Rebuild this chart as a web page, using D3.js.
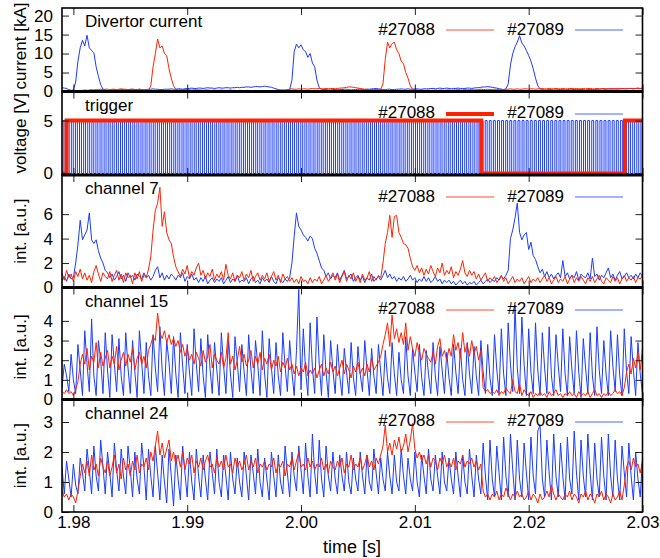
<!DOCTYPE html>
<html>
<head>
<meta charset="utf-8">
<script src="https://cdn.jsdelivr.net/npm/d3@7"></script>
<style>
body { margin: 0; background: #fff; }
text { font-family: "Liberation Sans", Arial, Helvetica, sans-serif; fill: #000; }
</style>
</head>
<body>
<svg id="plot" width="660" height="558"></svg>
<script>
// traces on a 0.2 ms grid starting at t0
const t0 = 1.979;
const dt = 0.0002;

const shots = ["#27088", "#27089"];
const xTicks = [1.98, 1.99, 2.00, 2.01, 2.02, 2.03];
const currentTicks = [0, 5, 10, 15, 20];
const voltageTicks = [0, 5];
const ch7Ticks = [0, 2, 4, 6];
const ch15Ticks = [0, 1, 2, 3, 4];
const ch24Ticks = [0, 1, 2, 3];

// divertor current [kA]
const divCur88 = [
  0.2,0.2,0.3,0.2,0.2,0.3,0.3,0.2,0.3,0.3,
  0.4,0.3,0.4,0.5,0.4,0.5,0.5,0.6,0.5,0.6,
  0.6,0.5,0.6,0.6,0.5,0.6,0.7,0.6,0.6,0.5,
  0.6,0.6,0.5,0.5,0.6,0.5,0.4,0.4,0.3,1.5,
  6.5,10.0,13.8,11.5,12.0,10.0,9.5,6.0,3.5,1.5,
  0.6,0.4,0.5,0.5,0.6,0.5,0.5,0.4,0.4,0.5,
  0.4,0.4,0.3,0.4,0.4,0.3,0.3,0.4,0.3,0.3,
  0.4,0.3,0.3,0.3,0.4,0.3,0.3,0.2,0.3,0.3,
  0.2,0.3,0.3,0.2,0.2,0.3,0.2,0.2,0.3,0.2,
  0.2,0.3,0.2,0.2,0.3,0.2,0.3,0.3,0.4,0.5,
  0.6,0.7,0.6,0.6,0.7,0.6,0.7,0.7,0.6,0.7,
  0.8,0.7,0.7,0.8,0.7,0.7,0.8,0.7,0.8,0.8,
  0.7,0.8,0.9,0.9,1.0,1.1,1.2,1.2,1.1,1.0,
  0.9,0.8,0.7,0.6,0.6,0.5,0.5,0.6,0.5,0.5,
  0.6,2.0,8.5,13.0,11.5,12.6,13.0,11.0,10.0,8.0,
  7.3,5.0,3.5,1.5,0.6,0.4,0.4,0.3,0.4,0.3,
  0.3,0.4,0.3,0.3,0.4,0.3,0.4,0.4,0.3,0.4,
  0.4,0.3,0.4,0.4,0.5,0.4,0.4,0.5,0.4,0.5,
  0.5,0.4,0.5,0.5,0.6,0.5,0.5,0.6,0.5,0.5,
  0.6,0.5,0.6,0.6,0.5,0.6,0.6,0.7,0.6,0.6,
  0.7,0.6,0.6,0.7,0.7,0.6,0.7,0.7,0.6,0.7,
  0.7,0.8,0.7,0.7,0.8,0.7,0.7,0.8,0.7,0.7,
  0.8,0.7,0.7,0.8,0.8,0.7,0.8,0.7,0.7,0.8,
  0.7,0.8,0.8,0.7,0.7,0.8,0.7,0.7,0.8,0.7,
  0.7,0.8,0.7,0.7,0.8,0.8,0.7,0.8,0.7,0.8,
  0.8,0.7,0.8,0.8,0.7,0.8
];
const divCur89 = [
  1.0,0.9,0.8,0.5,0.3,0.4,2.5,8.0,11.5,13.5,
  12.0,14.8,11.5,10.8,10.2,6.5,4.0,1.8,0.6,0.4,
  0.3,0.3,0.4,0.5,0.4,0.4,0.5,0.5,0.4,0.4,
  0.5,0.6,0.5,0.5,0.6,0.5,0.4,0.5,0.6,0.6,
  0.7,0.6,0.6,0.5,0.5,0.6,0.6,0.6,0.7,0.6,
  0.6,0.7,0.7,0.6,0.7,0.8,0.8,0.9,0.8,0.8,
  0.9,0.9,0.8,0.9,1.0,0.9,0.9,0.8,0.9,1.0,
  0.9,0.9,1.0,1.0,0.9,1.0,1.0,1.1,1.0,1.1,
  1.1,1.2,1.2,1.1,1.2,1.3,1.3,1.2,1.3,1.4,
  1.3,1.2,1.1,0.9,0.7,0.5,0.4,0.4,0.3,0.4,
  0.5,3.0,10.5,12.5,11.5,12.3,11.0,10.5,9.0,10.0,
  7.5,6.5,3.0,1.0,0.6,0.5,0.5,0.4,0.4,0.5,
  0.5,0.6,0.5,0.5,0.6,0.6,0.5,0.4,0.5,0.5,
  0.6,0.6,0.5,0.5,0.6,0.6,0.7,0.7,0.8,0.7,
  0.6,0.5,0.5,0.6,0.6,0.5,0.5,0.6,0.6,0.7,
  0.6,0.6,0.7,0.6,0.6,0.7,0.7,0.6,0.6,0.7,
  0.7,0.7,0.8,0.8,0.7,0.8,0.9,0.8,0.8,0.9,
  0.8,0.7,0.8,0.8,0.9,0.8,0.8,0.8,0.9,0.9,
  0.8,0.9,1.0,1.0,1.1,1.2,1.2,1.3,1.2,1.1,
  1.0,0.9,0.7,0.6,0.5,0.7,2.0,7.0,10.0,11.8,
  13.0,14.7,12.8,12.0,10.8,9.5,8.0,6.0,3.5,1.5,
  0.7,0.5,0.4,0.4,0.5,0.5,0.4,0.4,0.5,0.5,
  0.5,0.4,0.5,0.6,0.6,0.5,0.5,0.6,0.5,0.5,
  0.4,0.5,0.6,0.5,0.5,0.6,0.6,0.7,0.6,0.6,
  0.7,0.6,0.7,0.7,0.6,0.7,0.8,0.7,0.7,0.8,
  0.8,0.7,0.8,0.9,0.8,0.9
];

// trigger [V]: #27088 level changes, #27089 pulse starts (ms after t0)
const trig88Times = [1.979, 1.9794, 2.01584, 2.02845, 2.030];
const trig88Levels = [0, 5, 0, 5, 5];
const trig89PulseMs = [
  0.10,0.46,0.82,1.18,1.54,1.90,2.26,2.62,2.98,3.34,
  3.70,4.06,4.42,4.78,5.14,5.50,5.86,6.22,6.58,6.94,
  7.30,7.66,8.02,8.38,8.74,9.10,9.46,9.82,10.18,10.54,
  10.90,11.26,11.62,11.98,12.34,12.70,13.06,13.42,13.78,14.14,
  14.50,14.86,15.22,15.58,15.94,16.30,16.66,17.02,17.38,17.74,
  18.10,18.46,18.82,19.18,19.54,19.90,20.26,20.62,20.98,21.34,
  21.70,22.06,22.42,22.78,23.14,23.50,23.86,24.22,24.58,24.94,
  25.30,25.66,26.02,26.38,26.74,27.10,27.46,27.82,28.18,28.54,
  28.90,29.26,29.62,29.98,30.34,30.70,31.06,31.42,31.78,32.14,
  32.50,32.86,33.22,33.58,33.94,34.30,34.66,35.02,35.38,35.74,
  36.10,36.46,36.82,37.18,37.54,37.90,38.26,38.62,38.98,39.34,
  39.70,40.06,40.42,40.78,41.14,41.50,41.86,42.22,42.58,42.94,
  43.30,43.66,44.02,44.38,44.74,45.10,45.46,45.82,46.18,46.54,
  46.90,47.26,47.62,47.98,48.34,48.70,49.06,49.42,49.78,50.14,
  50.50,50.86
];
const trig89WidthMs = 0.17;

// channel 7 [a.u.]
const ch7_88 = [
  1.2,0.6,1.4,0.8,1.1,0.5,1.3,0.9,1.5,0.7,
  1.2,0.6,1.0,0.4,1.3,1.8,1.1,0.5,1.2,0.9,
  0.7,1.3,0.5,1.0,1.4,0.6,1.1,0.4,1.2,0.8,
  1.0,0.3,1.2,0.7,1.3,0.5,1.0,0.8,1.5,2.5,
  4.7,6.3,6.9,8.2,5.0,6.2,4.5,3.9,3.6,2.5,
  1.7,1.3,0.9,1.5,1.1,1.8,0.8,1.3,1.0,1.6,
  2.0,1.0,1.4,0.7,1.2,0.9,1.5,0.6,1.1,0.8,
  1.3,0.6,1.9,1.0,0.7,1.2,0.5,1.0,0.8,1.3,
  0.6,1.1,0.8,1.4,0.5,0.9,1.2,0.6,1.0,0.7,
  1.2,0.5,0.9,1.3,0.6,1.0,0.4,1.1,0.7,0.9,
  0.5,0.8,0.4,0.7,0.3,0.9,0.5,0.6,0.3,0.8,
  0.4,0.7,0.5,0.9,0.3,0.6,1.0,0.5,0.8,1.2,
  0.6,1.1,0.4,0.9,1.3,0.5,1.0,0.7,1.2,0.5,
  0.9,0.4,1.1,0.6,0.8,1.3,0.5,0.9,0.6,1.0,
  0.8,2.0,3.6,4.5,5.9,4.1,5.8,5.9,4.5,4.1,
  3.6,3.5,3.2,2.4,1.7,1.4,1.8,1.2,1.6,1.0,
  1.5,1.1,1.8,1.3,0.9,1.6,1.2,2.0,1.0,1.4,
  1.1,1.7,0.8,1.3,1.0,1.5,2.2,1.2,0.9,1.4,
  1.0,1.3,0.7,1.1,0.6,0.9,1.2,0.5,0.8,0.6,
  0.9,0.4,0.7,1.0,0.5,0.8,0.3,0.6,0.9,0.4,
  0.7,0.5,0.8,0.3,0.6,0.9,0.4,0.7,0.5,0.8,
  0.4,0.7,1.0,0.5,0.8,0.3,0.6,0.9,0.4,0.7,
  0.5,0.9,0.3,0.7,1.0,0.4,0.8,0.5,0.9,0.6,
  0.3,0.8,0.5,0.9,0.4,0.7,1.0,0.5,0.3,0.8,
  0.6,0.4,0.9,0.5,0.8,0.3,0.7,1.0,0.5,0.8,
  0.6,0.9,0.4,0.8,0.7,1.0
];
const ch7_89 = [
  0.6,0.9,0.5,1.1,0.7,0.8,2.0,3.5,5.5,3.9,
  4.3,4.7,6.1,3.9,3.6,3.9,3.0,2.4,2.0,1.4,
  1.2,0.8,1.1,0.6,0.9,1.3,0.7,1.0,0.5,1.2,
  0.8,1.0,0.6,1.1,0.9,0.7,1.2,0.8,1.0,0.6,
  0.9,1.4,1.7,0.8,1.2,0.6,1.0,0.7,1.1,0.9,
  0.6,1.0,0.8,1.2,0.5,0.9,0.7,1.1,0.6,0.8,
  0.4,0.8,0.5,0.9,0.3,0.6,0.8,0.4,0.7,0.5,
  0.8,0.3,0.6,0.9,0.4,0.7,0.5,1.0,0.4,0.6,
  0.5,0.8,0.3,0.7,0.9,0.4,0.6,0.3,0.8,0.5,
  0.7,0.4,0.9,0.5,0.3,0.8,0.6,0.4,0.7,0.5,
  0.8,2.0,4.2,6.1,5.0,4.7,4.3,4.1,3.8,4.2,
  4.0,3.2,2.8,2.2,1.6,1.4,0.9,1.2,0.7,1.0,
  0.8,1.2,0.6,1.0,1.4,0.7,0.9,1.1,0.5,0.8,
  1.0,0.6,0.9,0.4,0.8,0.6,1.1,0.5,0.7,0.9,
  0.6,1.0,1.4,0.8,1.1,0.7,0.9,0.5,0.8,0.6,
  0.9,0.5,0.7,1.0,0.6,0.8,0.4,0.7,0.5,0.9,
  0.5,0.8,0.4,0.6,0.9,0.5,0.7,0.3,0.6,0.4,
  0.6,0.3,0.5,0.2,0.4,0.6,0.3,0.5,0.2,0.4,
  0.3,0.5,0.2,0.4,0.6,0.3,0.5,0.7,0.4,0.6,
  0.5,0.8,0.6,0.9,0.7,1.0,1.4,4.0,4.7,5.7,
  6.9,4.5,3.9,4.3,4.5,3.1,3.7,2.6,2.3,1.7,
  1.2,1.5,0.9,1.3,0.8,1.1,0.7,1.0,1.2,0.8,
  2.2,0.9,1.2,0.7,1.0,0.8,1.3,0.6,1.1,0.9,
  0.8,1.2,0.7,2.4,0.9,1.1,0.6,1.0,0.8,1.2,
  1.6,0.8,1.1,0.6,1.0,1.3,0.7,0.9,1.2,0.8,
  1.0,0.7,1.1,0.8,1.2,0.9
];

// channel 15 [a.u.]
const ch15_88 = [
  0.4,0.3,0.5,0.3,0.4,0.2,0.5,0.9,1.8,2.3,
  1.8,2.6,1.5,2.2,1.9,2.9,1.6,2.4,1.7,2.1,
  2.5,1.6,2.2,1.8,2.7,1.5,2.0,2.4,1.7,2.3,
  1.9,2.6,1.5,2.1,2.4,1.8,2.2,1.6,2.5,2.8,
  3.2,3.0,4.4,3.4,3.1,3.5,2.9,3.3,2.8,3.1,
  2.7,3.0,2.4,2.8,2.2,2.6,2.0,2.3,1.8,2.4,
  2.1,1.7,2.5,1.9,2.2,2.8,1.6,2.3,2.0,1.8,
  2.4,1.6,2.1,3.4,1.8,2.2,1.5,2.0,2.7,1.9,
  2.3,1.7,2.0,2.5,1.6,2.2,1.8,2.4,1.5,2.1,
  1.8,2.3,1.5,2.0,1.7,2.2,1.4,1.9,1.6,2.1,
  1.5,1.8,1.3,1.7,1.2,1.6,1.4,1.9,1.2,1.5,
  1.3,1.6,1.1,1.5,1.8,1.2,1.6,1.3,1.9,1.4,
  1.7,1.2,1.6,2.0,1.3,1.8,1.5,1.1,1.7,1.4,
  1.9,1.3,1.6,1.2,1.8,1.4,2.1,1.5,1.7,1.9,
  2.2,2.8,3.3,3.9,2.7,4.3,3.1,3.6,2.9,3.4,
  2.8,3.9,2.5,3.2,2.6,2.2,2.9,2.4,2.0,2.6,
  2.3,2.1,1.9,2.4,1.8,2.7,3.1,2.2,2.5,2.0,
  2.6,2.2,3.3,2.5,2.9,2.1,3.4,2.4,2.8,2.2,
  3.0,2.3,2.7,2.0,2.5,0.6,0.4,0.5,0.3,0.4,
  0.3,0.5,0.2,0.4,0.3,0.6,0.4,0.3,1.0,0.4,
  0.3,0.8,0.2,0.5,0.3,0.2,0.4,0.1,0.3,0.2,
  0.4,0.2,0.3,0.1,0.4,0.2,0.3,0.5,0.2,0.3,
  0.1,0.3,0.2,0.4,0.2,0.3,0.1,0.4,0.2,0.3,
  0.2,0.4,0.1,0.3,0.5,0.2,0.3,0.1,0.3,0.2,
  0.4,0.2,0.3,0.5,0.3,0.4,0.2,0.6,1.4,1.8,
  1.3,2.1,1.6,2.4,1.5,2.6
];
const ch15_89 = [
  0.6,1.8,1.2,0.4,2.3,1.0,0.3,2.8,1.5,0.2,
  3.5,1.8,0.4,4.1,1.2,0.2,3.0,2.0,0.3,3.4,
  1.5,0.1,3.3,1.8,0.4,3.1,1.2,0.2,3.4,1.6,
  0.3,3.0,1.4,0.1,3.5,1.9,0.3,2.9,1.2,0.2,
  3.3,1.6,0.4,3.7,1.5,0.2,3.0,1.9,0.3,3.2,
  1.3,0.1,3.4,1.7,0.3,2.8,1.4,0.2,3.6,1.8,
  0.4,3.1,1.2,0.1,3.3,1.6,0.3,2.9,1.5,0.2,
  3.4,1.7,0.3,3.0,1.3,0.1,3.2,1.9,0.4,2.8,
  1.4,0.2,3.3,1.5,0.3,3.0,1.8,0.2,3.5,1.3,
  0.1,3.1,1.6,0.3,2.9,1.2,0.2,3.4,1.7,0.4,
  3.0,1.4,0.2,2.5,5.6,0.5,3.6,1.5,0.2,3.9,
  1.6,0.3,4.2,1.8,0.2,3.3,1.4,0.1,3.0,1.5,
  0.3,2.8,1.2,0.2,2.6,1.4,0.3,2.9,1.1,0.2,
  2.7,1.3,0.4,3.0,1.5,0.2,2.6,1.2,0.3,2.8,
  1.4,0.2,2.5,1.1,0.3,2.9,1.3,0.2,2.4,1.0,
  0.3,3.2,1.2,0.2,2.6,1.4,0.4,2.8,1.1,0.2,
  2.5,1.3,0.3,2.9,1.2,0.2,2.7,1.5,0.3,2.4,
  1.1,0.2,2.8,1.4,0.3,2.6,1.0,0.2,2.9,1.3,
  0.3,2.7,1.2,0.2,3.0,1.4,0.3,2.8,1.1,0.2,
  3.3,1.5,0.3,3.6,1.3,0.2,3.9,1.8,0.4,4.8,
  1.6,0.3,4.2,1.8,0.2,3.6,1.4,0.3,3.9,1.5,
  0.2,3.4,1.6,0.3,3.7,1.2,0.2,3.3,1.7,0.4,
  3.6,1.3,0.2,3.2,1.5,0.3,3.5,1.4,0.1,3.1,
  1.6,0.3,3.4,1.2,0.2,3.7,1.5,0.3,3.0,1.3,
  0.2,3.5,1.7,0.4,3.3,1.2,0.2,3.6,1.4,0.3,
  3.2,1.5,0.2,2.9,1.3,0.3
];

// channel 24 [a.u.]
const ch24_88 = [
  0.7,0.5,0.6,0.4,0.6,0.5,0.3,0.7,1.2,1.6,
  1.3,1.7,1.2,1.9,1.4,1.6,1.2,1.8,1.5,1.3,
  1.7,1.2,1.5,1.9,1.3,1.6,1.1,1.8,1.4,1.6,
  1.2,1.7,1.4,1.9,1.3,1.6,1.5,1.8,1.4,2.0,
  1.7,2.2,2.7,1.9,2.3,1.8,2.1,2.4,1.7,2.0,
  1.6,1.9,1.5,2.0,1.4,1.8,1.6,1.9,1.3,1.7,
  1.5,1.8,1.4,1.7,1.9,1.5,1.6,1.3,1.8,1.5,
  1.7,1.4,1.9,1.5,1.6,1.3,1.8,1.5,1.7,1.4,
  1.6,1.9,1.4,1.7,1.5,1.8,1.3,1.6,1.5,1.7,
  1.4,1.6,1.5,1.8,1.3,1.6,1.5,1.7,1.2,1.6,
  1.5,1.8,1.4,1.7,2.0,1.5,1.6,1.4,1.8,1.5,
  1.7,1.4,1.6,1.5,1.8,1.4,1.6,1.3,1.7,1.5,
  1.4,1.7,1.5,1.8,1.3,1.6,1.5,1.9,1.4,1.6,
  1.5,1.8,1.4,1.6,1.9,1.5,1.7,1.4,1.8,1.6,
  1.9,2.2,2.9,2.0,2.3,1.9,2.4,2.1,2.5,2.0,
  2.2,2.6,2.0,2.4,2.95,2.1,1.8,2.0,1.7,1.9,
  1.6,1.9,1.5,1.8,1.7,1.4,1.8,1.6,1.9,1.5,
  1.7,1.5,1.8,1.4,1.7,1.6,1.9,1.5,1.7,1.6,
  1.8,1.5,1.7,1.4,1.6,0.7,0.5,0.6,0.4,0.6,
  0.5,0.7,0.4,0.6,0.5,0.8,0.6,0.4,0.6,0.5,
  0.7,0.5,0.6,0.4,0.5,0.7,0.4,0.6,0.5,0.3,
  0.6,0.4,0.5,0.7,0.5,0.9,0.6,0.4,0.6,0.5,
  0.4,0.6,0.5,0.7,0.4,0.6,0.5,0.3,0.6,0.5,
  0.7,0.4,0.6,0.5,0.3,0.6,0.5,0.7,0.4,0.6,
  0.5,0.3,0.6,0.4,0.5,0.7,0.4,0.9,1.5,1.7,
  1.4,1.8,1.5,1.6,1.3,1.7
];
const ch24_89 = [
  1.5,0.6,1.7,1.1,0.5,1.6,0.9,0.6,1.8,1.3,
  0.7,2.1,1.4,0.6,2.2,1.2,0.7,2.4,1.5,0.6,
  2.0,1.3,0.5,2.3,1.4,0.7,2.1,1.2,0.6,2.2,
  1.4,0.5,2.0,1.1,0.6,2.3,1.5,0.4,2.1,1.2,
  0.5,2.2,1.3,0.4,1.9,1.0,0.3,2.1,1.2,0.2,
  1.9,1.1,0.4,2.2,1.3,0.5,2.0,1.0,0.4,2.1,
  1.2,0.5,1.9,1.1,0.4,2.0,1.3,0.6,2.1,1.0,
  0.5,1.9,1.2,0.4,2.0,1.1,0.6,1.8,1.0,0.5,
  2.0,1.2,0.4,1.9,1.3,0.6,2.1,1.0,0.5,1.8,
  1.1,0.4,2.0,1.2,0.5,1.9,1.0,0.6,2.2,1.3,
  0.5,2.0,1.2,0.7,2.2,1.4,0.6,2.3,1.2,0.5,
  2.6,1.3,0.6,2.4,1.1,0.5,2.2,1.2,0.7,2.0,
  1.1,0.6,1.9,1.2,0.7,2.0,1.0,0.6,1.8,1.1,
  0.7,2.0,1.2,0.6,1.9,1.0,0.7,2.1,1.3,0.6,
  1.8,1.1,0.7,2.0,1.2,0.6,1.9,1.0,0.7,2.1,
  1.2,0.6,1.8,1.1,0.7,2.0,1.0,0.5,1.9,1.2,
  0.6,2.1,1.1,0.7,1.9,1.2,0.6,2.0,1.0,0.7,
  1.8,1.1,0.6,2.0,1.2,0.5,1.9,1.0,0.6,2.1,
  1.2,0.5,1.9,1.1,0.6,2.3,1.2,0.4,2.4,1.1,
  0.5,2.2,1.3,0.4,2.5,1.2,0.5,2.6,1.4,0.4,
  2.4,1.1,0.5,2.3,1.3,0.4,2.5,1.2,0.6,2.7,
  2.9,1.1,0.5,2.4,1.3,0.4,2.6,1.2,0.5,2.3,
  1.2,0.4,2.5,1.1,0.6,2.7,1.3,0.4,2.4,1.2,
  0.5,2.6,1.3,0.4,2.3,1.1,0.5,2.5,1.2,0.4,
  2.6,1.2,0.5,2.4,1.1,0.4,2.2,1.3,0.5,2.3,
  1.2,0.4,2.0,1.1,0.5,1.8
];

const red = "#ff2200";
const blue = "#1a3cff";

const svg = d3.select("#plot");
const x = d3.scaleLinear().domain([1.979, 2.030]).range([62, 642.5]);

const sampled = vals => vals.map((v, i) => ({t: t0 + i * dt, v: v}));

const trigRed = trig88Times.map((t, i) => ({t: t, v: trig88Levels[i]}));
const trigBlue = [{t: t0, v: 0}];
trig89PulseMs.forEach(ms => {
  trigBlue.push({t: t0 + ms / 1000, v: 5});
  trigBlue.push({t: t0 + (ms + trig89WidthMs) / 1000, v: 0});
});

const panels = [
  {top: 8, bottom: 91.5, domain: [0, 22], ticks: currentTicks, ylabel: "current [kA]", title: "Divertor current", labelY: 46,
   lines: [{data: sampled(divCur89), color: blue, width: 1}, {data: sampled(divCur88), color: red, width: 1}]},
  {top: 91.5, bottom: 175, domain: [-0.15, 7.75], ticks: voltageTicks, ylabel: "voltage [V]", title: "trigger",
   lines: [{data: trigBlue, color: blue, width: 1, step: true}, {data: trigRed, color: red, width: 4, step: true}]},
  {top: 175, bottom: 287.5, domain: [0, 9.2], ticks: ch7Ticks, ylabel: "int. [a.u.]", title: "channel 7",
   lines: [{data: sampled(ch7_89), color: blue, width: 1}, {data: sampled(ch7_88), color: red, width: 1}]},
  {top: 287.5, bottom: 399.5, domain: [0, 5.7], ticks: ch15Ticks, ylabel: "int. [a.u.]", title: "channel 15", labelY: 347,
   lines: [{data: sampled(ch15_89), color: blue, width: 1}, {data: sampled(ch15_88), color: red, width: 1}]},
  {top: 399.5, bottom: 512, domain: [0, 3.75], ticks: ch24Ticks, ylabel: "int. [a.u.]", title: "channel 24",
   lines: [{data: sampled(ch24_89), color: blue, width: 1}, {data: sampled(ch24_88), color: red, width: 1}]}
];

panels.forEach((p, k) => {
  let y = d3.scaleLinear().domain(p.domain).range([p.bottom, p.top]);
  let g = svg.append("g").attr("class", "panel");

  g.append("clipPath").attr("id", "clip" + k)
    .append("rect")
    .attr("x", x.range()[0]).attr("y", p.top)
    .attr("width", x.range()[1] - x.range()[0]).attr("height", p.bottom - p.top);

  let plotG = g.append("g").attr("clip-path", "url(#clip" + k + ")");
  p.lines.forEach(s => {
    let line = d3.line().x(d => x(d.t)).y(d => y(d.v));
    if (s.step) line.curve(d3.curveStepAfter);
    plotG.append("path")
      .datum(s.data)
      .attr("d", line)
      .attr("fill", "none")
      .attr("stroke", s.color)
      .attr("stroke-width", s.width)
      .attr("stroke-linejoin", "miter");
  });

  // inward ticks on all four sides
  let left = g.append("g").attr("transform", "translate(" + x.range()[0] + ",0)")
    .call(d3.axisLeft(y).tickValues(p.ticks).tickSize(-7).tickPadding(9).tickFormat(d3.format("d")));
  let right = g.append("g").attr("transform", "translate(" + x.range()[1] + ",0)")
    .call(d3.axisRight(y).tickValues(p.ticks).tickSize(-7).tickFormat(""));
  let top = g.append("g").attr("transform", "translate(0," + p.top + ")")
    .call(d3.axisTop(x).tickValues(xTicks).tickSize(-7).tickFormat(""));
  let bottom = g.append("g").attr("transform", "translate(0," + p.bottom + ")")
    .call(d3.axisBottom(x).tickValues(xTicks).tickSize(-7).tickPadding(4)
      .tickFormat(k == panels.length - 1 ? d3.format(".2f") : ""));

  [left, right, top, bottom].forEach(a => {
    a.select(".domain").remove();
    a.selectAll(".tick line").attr("stroke", "#222");
    a.selectAll("text").attr("font-size", 17).attr("fill", "#000")
      .style("font-family", "'Liberation Sans', Arial, sans-serif");
  });

  g.append("rect")
    .attr("x", x.range()[0]).attr("y", p.top)
    .attr("width", x.range()[1] - x.range()[0]).attr("height", p.bottom - p.top)
    .attr("fill", "none").attr("stroke", "#000").attr("stroke-width", 1.6);

  g.append("text")
    .attr("x", 85).attr("y", p.top + 19)
    .attr("font-size", 17)
    .text(p.title);

  g.append("text")
    .attr("transform", "translate(26," + (p.labelY || (p.top + p.bottom) / 2) + ") rotate(-90)")
    .attr("text-anchor", "middle")
    .attr("font-size", 17)
    .text(p.ylabel);

  // key: #27088 first, then #27089
  let keyY = Math.round(p.top + 22);
  let keys = [[shots[0], p.lines[1], 435, 446], [shots[1], p.lines[0], 564, 575]];
  keys.forEach(kk => {
    g.append("text")
      .attr("x", kk[2]).attr("y", p.top + 26.5)
      .attr("text-anchor", "end")
      .attr("font-size", 17)
      .text(kk[0]);
    g.append("line")
      .attr("class", "key")
      .attr("x1", kk[3]).attr("x2", kk[3] + 48)
      .attr("y1", keyY).attr("y2", keyY)
      .attr("stroke", kk[1].color)
      .attr("stroke-opacity", kk[1].width > 1 ? 1 : 0.8)
      .attr("stroke-width", kk[1].width);
  });
});

// panel separators are drawn heavier, as in the original
panels.slice(1).forEach(p => {
  svg.append("line")
    .attr("x1", x.range()[0]).attr("x2", x.range()[1])
    .attr("y1", p.top).attr("y2", p.top)
    .attr("stroke", "#000").attr("stroke-width", 3);
});

svg.append("text")
  .attr("x", 352).attr("y", 553)
  .attr("text-anchor", "middle")
  .attr("font-size", 18)
  .text("time [s]");
</script>
</body>
</html>
